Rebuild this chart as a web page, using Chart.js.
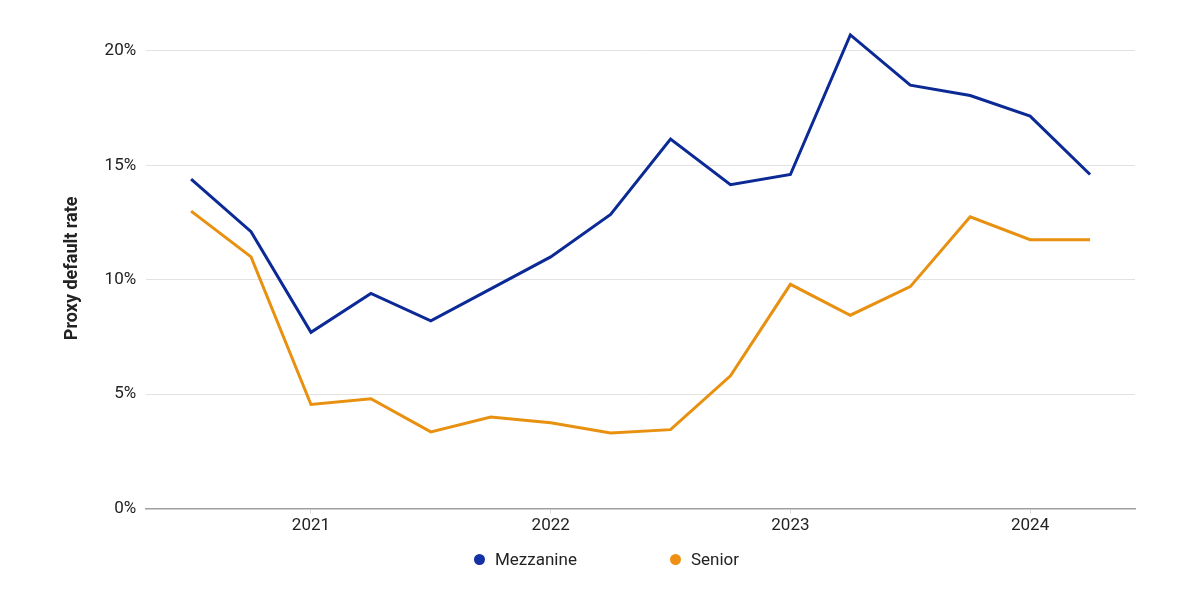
<!DOCTYPE html>
<html>
<head>
<meta charset="utf-8">
<script src="https://cdn.jsdelivr.net/npm/chart.js@4"></script>
<style>
  html, body { margin: 0; padding: 0; background: #fff; }
  #wrap { position: relative; width: 1200px; height: 600px; }
  #leyenda { position: absolute; left: 474px; top: 548px; display: flex; align-items: center;
             font-family: Roboto, "Noto Sans", sans-serif; font-size: 17px; color: #222; }
  #leyenda .item { display: flex; align-items: center; margin-right: 93px; line-height: 22px; }
  #leyenda .punto { width: 11px; height: 11px; border-radius: 50%; margin-right: 10px; }
</style>
</head>
<body>
<div id="wrap"><canvas id="grafico"></canvas><div id="leyenda"></div></div>
<script>
// quarterly observations (month of quarter start)
const periodos = ['2020-07', '2020-10', '2021-01', '2021-04', '2021-07', '2021-10', '2022-01', '2022-04',
                  '2022-07', '2022-10', '2023-01', '2023-04', '2023-07', '2023-10', '2024-01', '2024-04'];
const mezzanine = [14.4, 12.1, 7.7, 9.4, 8.2, 9.6, 11.0, 12.85, 16.15, 14.15, 14.6, 20.7, 18.5, 18.05, 17.15, 14.6];
const senior = [13.0, 11.0, 4.55, 4.8, 3.35, 4.0, 3.75, 3.3, 3.45, 5.8, 9.8, 8.45, 9.7, 12.75, 11.75, 11.75];
const ticksY = [0, 5, 10, 15, 20];
const ticksX = [2021, 2022, 2023, 2024];

function aNumero(p) {
    const [a, m] = p.split('-').map(Number);
    return a + (m - 1) / 12;
}

function serie(valores) {
    return periodos.map((p, i) => ({ x: aNumero(p), y: valores[i] }));
}

const ctx = document.getElementById('grafico').getContext('2d');
Chart.defaults.font.family = 'Roboto, "Noto Sans", sans-serif';
Chart.defaults.color = '#222';

const chart = new Chart(ctx, {
    type: 'line',
    data: {
        datasets: [{
            label: 'Mezzanine',
            data: serie(mezzanine),
            borderColor: '#0b2a96',
            backgroundColor: '#1430a3',
            borderWidth: 3,
            pointRadius: 0,
            tension: 0
        }, {
            label: 'Senior',
            data: serie(senior),
            borderColor: '#e8900f',
            backgroundColor: '#ef9014',
            borderWidth: 3,
            pointRadius: 0,
            tension: 0
        }]
    },
    options: {
        responsive: true,
        maintainAspectRatio: false,
        animation: false,
        layout: { padding: { top: 28, right: 65, left: 58, bottom: 62 } },
        plugins: {
            tooltip: { enabled: false },
            legend: { display: false }
        },
        scales: {
            x: {
                type: 'linear',
                min: 2020.3125,
                max: 2024.4375,
                afterBuildTicks: axis => { axis.ticks = ticksX.map(v => ({ value: v })); },
                ticks: {
                    callback: v => String(v),
                    font: { size: 17 },
                    padding: 2
                },
                grid: { drawOnChartArea: false, drawTicks: true, tickLength: 5, color: '#d9d9d9' },
                border: { color: '#a0a0a0', width: 1.5 }
            },
            y: {
                min: 0,
                max: 21,
                afterBuildTicks: axis => { axis.ticks = ticksY.map(v => ({ value: v })); },
                ticks: {
                    callback: v => v + '%',
                    font: { size: 17 },
                    padding: 10
                },
                grid: { color: '#e2e2e2', drawTicks: false },
                border: { display: false },
                title: {
                    display: true,
                    text: 'Proxy default rate',
                    font: { size: 18, weight: 'bold' },
                    padding: { bottom: 11 }
                }
            }
        }
    }
});

// legend built from the chart's datasets
const leyenda = document.getElementById('leyenda');
chart.data.datasets.forEach(ds => {
    const item = document.createElement('div');
    item.className = 'item';
    const punto = document.createElement('span');
    punto.className = 'punto';
    punto.style.background = ds.backgroundColor;
    const texto = document.createElement('span');
    texto.textContent = ds.label;
    item.appendChild(punto);
    item.appendChild(texto);
    leyenda.appendChild(item);
});
</script>
</body>
</html>
